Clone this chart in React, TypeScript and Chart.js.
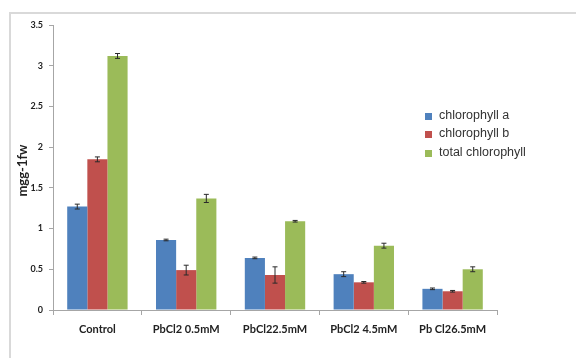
import React, { useEffect, useRef } from "react";
import { Chart, registerables } from "chart.js";

Chart.register(...registerables);

const categories = ["Control", "PbCl2 0.5mM", "PbCl22.5mM", "PbCl2 4.5mM", "Pb Cl26.5mM"];
const chlA = [1.27, 0.86, 0.64, 0.44, 0.26];
const chlB = [1.85, 0.49, 0.43, 0.34, 0.23];
const chlTotal = [3.12, 1.37, 1.09, 0.79, 0.5];
const errA = [0.03, 0.01, 0.01, 0.03, 0.01];
const errB = [0.03, 0.06, 0.1, 0.01, 0.01];
const errTotal = [0.03, 0.05, 0.01, 0.03, 0.03];
const seriesNames = ["chlorophyll a", "chlorophyll b", "total chlorophyll"];
const seriesColors = ["#4F81BD", "#C0504D", "#9BBB59"];
const yTitle = "mgg-1fw";

const errorBarPlugin = {
  id: "errorBars",
  afterDatasetsDraw(chart: any) {
    const ctx = chart.ctx;
    const yScale = chart.scales.y;
    chart.data.datasets.forEach((ds: any, di: number) => {
      const meta = chart.getDatasetMeta(di);
      const errs = ds.errors as number[];
      meta.data.forEach((bar: any, i: number) => {
        const v = ds.data[i];
        const e = errs[i];
        const yTop = yScale.getPixelForValue(v + e);
        const yBot = yScale.getPixelForValue(v - e);
        const x = bar.x;
        ctx.save();
        ctx.strokeStyle = "#2a2a2a";
        ctx.lineWidth = 1;
        ctx.beginPath();
        ctx.moveTo(x, yTop);
        ctx.lineTo(x, yBot);
        ctx.moveTo(x - 2.5, yTop);
        ctx.lineTo(x + 2.5, yTop);
        ctx.moveTo(x - 2.5, yBot);
        ctx.lineTo(x + 2.5, yBot);
        ctx.stroke();
        ctx.restore();
      });
    });
  },
};

const decorPlugin = {
  id: "decor",
  beforeDraw(chart: any) {
    const ctx = chart.ctx;
    ctx.save();
    ctx.fillStyle = "#ffffff";
    ctx.fillRect(0, 0, chart.width, chart.height);
    ctx.strokeStyle = "#d9d9d9";
    ctx.lineWidth = 2;
    ctx.beginPath();
    ctx.moveTo(10, chart.height);
    ctx.lineTo(10, 13);
    ctx.lineTo(chart.width, 13);
    ctx.stroke();
    ctx.restore();
  },
  afterDraw(chart: any) {
    const ctx = chart.ctx;
    const area = chart.chartArea;
    ctx.save();
    ctx.translate(23, (area.top + area.bottom) / 2 + 3);
    ctx.rotate(-Math.PI / 2);
    ctx.font = "bold 13px Lato, 'Liberation Sans', sans-serif";
    ctx.fillStyle = "#222";
    ctx.textAlign = "center";
    ctx.textBaseline = "middle";
    ctx.fillText(yTitle, 0, 0);
    ctx.restore();
    ctx.save();
    ctx.font = "12.5px 'Liberation Sans', Arial, sans-serif";
    ctx.textBaseline = "middle";
    const rows = [116, 134, 153];
    seriesNames.forEach((name, i) => {
      ctx.fillStyle = seriesColors[i];
      ctx.fillRect(425, rows[i] - 3, 7, 7);
      ctx.fillStyle = "#333";
      ctx.fillText(name, 439, rows[i]);
    });
    ctx.restore();
  },
};

export default function App() {
  const ref = useRef<HTMLCanvasElement>(null);
  useEffect(() => {
    document.body.style.margin = "0";
    const mk = (label: string, data: number[], errors: number[], color: string) => ({
      label,
      data,
      errors,
      backgroundColor: color,
      borderWidth: 0,
      categoryPercentage: 0.68,
      barPercentage: 1.0,
    });
    const chart = new Chart(ref.current!, {
      type: "bar",
      data: {
        labels: categories,
        datasets: [
          mk(seriesNames[0], chlA, errA, seriesColors[0]),
          mk(seriesNames[1], chlB, errB, seriesColors[1]),
          mk(seriesNames[2], chlTotal, errTotal, seriesColors[2]),
        ] as any,
      },
      options: {
        animation: false,
        responsive: false,
        layout: { padding: { left: 27, right: 79, top: 25, bottom: 0 } },
        plugins: { legend: { display: false }, tooltip: { enabled: false } },
        scales: {
          x: {
            grid: { display: true, drawOnChartArea: false, offset: true, tickLength: 5, color: "#a6a6a6" },
            border: { color: "#a6a6a6" },
            ticks: {
              font: { family: "Lato, 'Liberation Sans', sans-serif", size: 11, weight: "bold" },
              color: "#222",
              padding: 8,
              maxRotation: 0,
            },
            afterFit(scale: any) {
              scale.height = 48;
            },
          },
          y: {
            min: 0,
            max: 3.5,
            ticks: {
              stepSize: 0.5,
              font: { family: "Lato, 'Liberation Sans', sans-serif", size: 9, weight: "bold" },
              color: "#222",
              padding: 6,
              callback: (v: any) => String(Number(v)),
            },
            grid: { display: true, drawOnChartArea: false, tickLength: 4, color: "#a6a6a6" },
            border: { color: "#a6a6a6" },
            afterFit(scale: any) {
              scale.width = 26;
            },
          },
        },
      } as any,
      plugins: [decorPlugin, errorBarPlugin],
    });
    return () => chart.destroy();
  }, []);
  return <canvas ref={ref} width={576} height={358} style={{ display: "block" }} />;
}
